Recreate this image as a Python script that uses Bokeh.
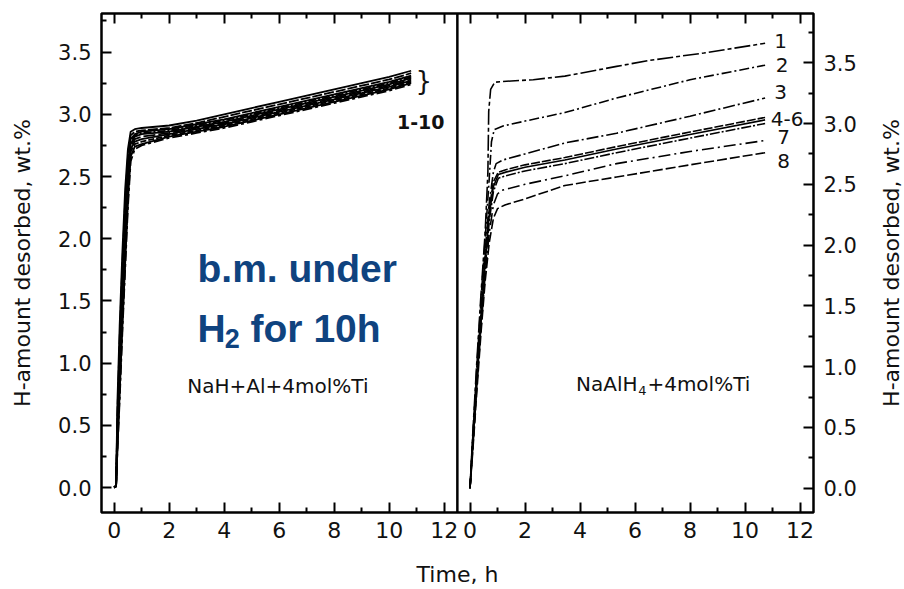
import math
from bokeh.plotting import figure
from bokeh.layouts import row
from bokeh.models import (Range1d, LinearAxis, FixedTicker, Span, Label,
                          CustomJSTickFormatter, PrintfTickFormatter, CustomLabelingPolicy)
from bokeh.embed import file_html
from bokeh.resources import INLINE

# ---------------- data ----------------
# Left panel: NaH+Al+4mol%Ti, cycles 1-10
t_left = [0, 0.07, 0.12, 0.2, 0.3, 0.4, 0.5, 0.6, 0.75, 1, 2, 3, 4, 5, 6, 7, 8, 9, 10, 10.8]
left_1 = [0, 0.02, 0.70, 1.30, 1.90, 2.40, 2.72, 2.86, 2.88, 2.89, 2.91, 2.95, 3.00, 3.05, 3.10, 3.15, 3.20, 3.25, 3.30, 3.35]
left_2 = [0, 0.02, 0.60, 1.20, 1.80, 2.30, 2.65, 2.83, 2.86, 2.87, 2.89, 2.93, 2.98, 3.03, 3.08, 3.13, 3.18, 3.23, 3.28, 3.33]
left_3 = [0, 0.01, 0.55, 1.10, 1.70, 2.20, 2.60, 2.80, 2.84, 2.86, 2.88, 2.92, 2.96, 3.01, 3.06, 3.11, 3.16, 3.21, 3.26, 3.31]
left_4 = [0, 0.01, 0.50, 1.00, 1.60, 2.10, 2.55, 2.78, 2.83, 2.85, 2.87, 2.91, 2.95, 3.00, 3.05, 3.10, 3.15, 3.20, 3.25, 3.30]
left_5 = [0, 0.01, 0.45, 0.95, 1.50, 2.00, 2.50, 2.76, 2.82, 2.84, 2.86, 2.90, 2.94, 2.99, 3.04, 3.09, 3.14, 3.19, 3.24, 3.29]
left_6 = [0, 0.01, 0.40, 0.90, 1.45, 1.95, 2.45, 2.74, 2.80, 2.82, 2.85, 2.89, 2.93, 2.98, 3.03, 3.08, 3.13, 3.18, 3.23, 3.28]
left_7 = [0, 0.01, 0.40, 0.85, 1.40, 1.90, 2.40, 2.72, 2.78, 2.80, 2.84, 2.88, 2.92, 2.97, 3.02, 3.07, 3.12, 3.17, 3.22, 3.27]
left_8 = [0, 0.01, 0.35, 0.80, 1.35, 1.85, 2.35, 2.70, 2.76, 2.78, 2.83, 2.87, 2.91, 2.96, 3.01, 3.06, 3.11, 3.16, 3.21, 3.26]
left_9 = [0, 0.01, 0.30, 0.75, 1.30, 1.80, 2.30, 2.66, 2.74, 2.76, 2.82, 2.86, 2.90, 2.95, 3.00, 3.05, 3.10, 3.15, 3.20, 3.25]
left_10 = [0, 0.01, 0.30, 0.70, 1.25, 1.75, 2.25, 2.62, 2.72, 2.75, 2.81, 2.85, 2.89, 2.94, 2.99, 3.04, 3.09, 3.14, 3.19, 3.24]
left_series = [left_1, left_2, left_3, left_4, left_5, left_6, left_7, left_8, left_9, left_10]

# Right panel: NaAlH4+4mol%Ti, cycles 1-8
right_t_1 = [0, 0.1, 0.25, 0.4, 0.55, 0.65, 0.68, 0.75, 0.9, 1.5, 2.3, 3.45, 5.33, 6.55, 8.5, 10.73]
right_1 = [0, 0.45, 1.05, 1.60, 2.10, 2.60, 3.10, 3.28, 3.34, 3.35, 3.36, 3.39, 3.47, 3.52, 3.58, 3.66]
right_t_2 = [0, 0.1, 0.25, 0.4, 0.55, 0.7, 0.78, 0.88, 1.2, 2, 3.45, 5.33, 8, 10.73]
right_2 = [0, 0.42, 1.00, 1.55, 2.05, 2.55, 2.85, 2.95, 2.98, 3.02, 3.09, 3.21, 3.36, 3.48]
right_t_3 = [0, 0.1, 0.25, 0.4, 0.55, 0.7, 0.85, 0.95, 1.2, 2, 3.45, 5.33, 8, 10.73]
right_3 = [0, 0.40, 0.95, 1.50, 1.95, 2.35, 2.60, 2.67, 2.70, 2.75, 2.84, 2.92, 3.06, 3.21]
right_t_4 = [0, 0.1, 0.25, 0.4, 0.55, 0.7, 0.85, 1.03, 1.3, 2, 3.45, 5.33, 8, 10.73]
right_4 = [0, 0.38, 0.92, 1.45, 1.90, 2.30, 2.52, 2.60, 2.62, 2.66, 2.72, 2.81, 2.93, 3.05]
right_5 = [0, 0.36, 0.90, 1.40, 1.85, 2.25, 2.48, 2.58, 2.60, 2.64, 2.70, 2.79, 2.91, 3.03]
right_6 = [0, 0.34, 0.87, 1.36, 1.80, 2.20, 2.44, 2.55, 2.57, 2.61, 2.67, 2.76, 2.88, 3.00]
right_t_7 = [0, 0.1, 0.25, 0.4, 0.55, 0.7, 0.85, 1.0, 1.15, 2, 3.45, 5.33, 8, 10.73]
right_7 = [0, 0.33, 0.85, 1.32, 1.75, 2.10, 2.33, 2.42, 2.45, 2.50, 2.57, 2.67, 2.77, 2.86]
right_t_8 = [0, 0.1, 0.25, 0.4, 0.55, 0.7, 0.85, 1.0, 1.27, 2, 3.45, 5.33, 8, 10.73]
right_8 = [0, 0.30, 0.80, 1.28, 1.70, 2.02, 2.22, 2.30, 2.33, 2.38, 2.49, 2.56, 2.66, 2.76]
right_series = [(right_t_1, right_1), (right_t_2, right_2), (right_t_3, right_3),
                (right_t_4, right_4), (right_t_4, right_5), (right_t_4, right_6),
                (right_t_7, right_7), (right_t_8, right_8)]

right_labels = ["1", "2", "3", "4-6", "7", "8"]
right_label_x = [11.29, 11.35, 11.29, 11.53, 11.40, 11.40]
right_label_y = [3.68, 3.48, 3.26, 3.04, 2.89, 2.69]

x_ticks = [0, 2, 4, 6, 8, 10, 12]
x_minor = [1, 3, 5, 7, 9, 11]
y_ticks = [0.0, 0.5, 1.0, 1.5, 2.0, 2.5, 3.0, 3.5]
y_minor = [0.25, 0.75, 1.25, 1.75, 2.25, 2.75, 3.25, 3.75]

Y_LABEL = "H-amount desorbed, wt.%"
X_LABEL = "Time, h"

# ---------------- layout constants ----------------
XL0, XL1 = -0.46, 12.48      # left panel x limits
XR0, XR1 = -0.46, 12.49      # right panel x limits
OFF = XL1 - XR0              # offset of right panel in shared coordinates
YL = (-0.2, 3.81)
YR = (-0.2, 3.905)
W_MAIN, W_SIDE, H = 862, 42, 589
BORDER_L, BORDER_R, BORDER_T, BORDER_B = 101, 49, 13, 77

FONT = "DejaVu Sans"
INK = "#111111"

p = figure(width=W_MAIN, height=H, output_backend="svg", toolbar_location=None,
           x_range=Range1d(XL0, XL1 + (XR1 - XR0)), y_range=Range1d(*YL),
           x_axis_location=None, y_axis_location=None,
           min_border_left=BORDER_L, min_border_right=BORDER_R,
           min_border_top=BORDER_T, min_border_bottom=BORDER_B,
           background_fill_color="white", border_fill_color="white")
p.extra_x_ranges = {"right": Range1d(XR0 - OFF, XR1)}
p.extra_y_ranges = {"right": Range1d(*YR)}
p.outline_line_color = "black"
p.outline_line_width = 2.5
p.outline_line_alpha = 1.0
p.grid.visible = False

# ---------------- axes ----------------
xt_all = x_ticks + [t + OFF for t in x_ticks]
xm_all = x_minor + [t + OFF for t in x_minor]
xfmt = CustomJSTickFormatter(args=dict(off=OFF, split=XL1),
                             code="var v = tick > split ? tick - off : tick; return Math.round(v).toString();")


def style_axis(ax, label_size="21px"):
    ax.axis_line_color = None
    ax.major_tick_in = 10
    ax.major_tick_out = 0
    ax.minor_tick_in = 5
    ax.minor_tick_out = 0
    ax.major_tick_line_width = 2
    ax.minor_tick_line_width = 2
    ax.major_tick_line_color = "black"
    ax.minor_tick_line_color = "black"
    ax.major_label_text_font = FONT
    ax.major_label_text_font_size = label_size
    ax.major_label_text_color = INK
    ax.axis_label_text_font = FONT
    ax.axis_label_text_font_size = "22px"
    ax.axis_label_text_font_style = "normal"
    ax.axis_label_text_color = INK


xb = LinearAxis(ticker=FixedTicker(ticks=xt_all, minor_ticks=xm_all), formatter=xfmt,
                axis_label=X_LABEL)
style_axis(xb, "22px")
xb.major_label_standoff = 9
xb.axis_label_standoff = 21
p.add_layout(xb, "below")

# top axis: ticks only, no labels drawn
hide_all = CustomLabelingPolicy(code="for (const i of indices) { indices.unset(i) } return indices")
xa = LinearAxis(ticker=FixedTicker(ticks=xt_all, minor_ticks=xm_all), formatter=xfmt,
                major_label_policy=hide_all)
style_axis(xa, "0px")
xa.major_label_standoff = 0
p.add_layout(xa, "above")

yl = LinearAxis(ticker=FixedTicker(ticks=y_ticks, minor_ticks=y_minor),
                formatter=PrintfTickFormatter(format="%.1f"),
                axis_label=Y_LABEL)
style_axis(yl)
yl.major_label_standoff = 10
yl.axis_label_standoff = 20
p.add_layout(yl, "left")

yr = LinearAxis(y_range_name="right", ticker=FixedTicker(ticks=y_ticks, minor_ticks=y_minor),
                formatter=PrintfTickFormatter(format="%.1f"))
style_axis(yr)
yr.major_label_standoff = 10
p.add_layout(yr, "right")

# divider between panels
p.add_layout(Span(location=XL1, dimension="height", line_color="black", line_width=2.5))

# ---------------- curves ----------------
left_dashes = ["solid", "10 2", "solid", "8 2 2 2", "solid", "12 3", "solid", "6 2", "solid", "10 3 3 3"]
for ys, dash in zip(left_series, left_dashes):
    p.line(t_left, ys, line_color="black", line_width=1.8, line_dash=dash)

right_dashes = ["16 3 4 3", "10 3 2 3", "12 3 2 3", "9 2", "solid", "10 2 2 2", "12 4 2 4", "10 3"]
for (ts, ys), dash in zip(right_series, right_dashes):
    p.line(ts, ys, line_color="black", line_width=1.6, line_dash=dash,
           x_range_name="right", y_range_name="right")

# ---------------- annotations ----------------
for txt, lx, ly in zip(right_labels, right_label_x, right_label_y):
    p.add_layout(Label(x=lx, y=ly, text=txt, x_range_name="right", y_range_name="right",
                       text_font=FONT, text_font_size="20px", text_color=INK,
                       text_align="center", text_baseline="middle"))

p.add_layout(Label(x=11.26, y=3.27, text="}", text_font=FONT, text_font_size="26px",
                   text_color=INK, text_align="center", text_baseline="middle"))
p.add_layout(Label(x=11.15, y=2.94, text="1-10", text_font=FONT, text_font_size="19px",
                   text_font_style="bold", text_color=INK, text_align="center",
                   text_baseline="middle"))

p.add_layout(Label(x=2.66, y=0.82, text="NaH+Al+4mol%Ti", text_font=FONT,
                   text_font_size="20px", text_color=INK, text_align="left",
                   text_baseline="alphabetic"))

p.add_layout(Label(x=6.09, y=0.86, text="NaAlH", x_range_name="right", y_range_name="right",
                   text_font=FONT, text_font_size="20px", text_color=INK,
                   text_align="right", text_baseline="alphabetic"))
p.add_layout(Label(x=6.27, y=0.80, text="4", x_range_name="right", y_range_name="right",
                   text_font=FONT, text_font_size="13px", text_color=INK,
                   text_align="center", text_baseline="alphabetic"))
p.add_layout(Label(x=6.45, y=0.86, text="+4mol%Ti", x_range_name="right", y_range_name="right",
                   text_font=FONT, text_font_size="20px", text_color=INK,
                   text_align="left", text_baseline="alphabetic"))

BLUE = "#0f437f"
BFONT = "Liberation Sans"
p.add_layout(Label(x=3.03, y=1.76, text="b.m. under", text_font=BFONT, text_font_size="39px",
                   text_font_style="bold", text_color=BLUE, text_align="left",
                   text_baseline="alphabetic"))
p.add_layout(Label(x=3.03, y=1.28, text="H", text_font=BFONT, text_font_size="39px",
                   text_font_style="bold", text_color=BLUE, text_align="left",
                   text_baseline="alphabetic"))
p.add_layout(Label(x=4.02, y=1.20, text="2", text_font=BFONT, text_font_size="27px",
                   text_font_style="bold", text_color=BLUE, text_align="left",
                   text_baseline="alphabetic"))
p.add_layout(Label(x=4.96, y=1.28, text="for 10h", text_font=BFONT, text_font_size="39px",
                   text_font_style="bold", text_color=BLUE, text_align="left",
                   text_baseline="alphabetic"))

# ---------------- right-hand axis title (separate narrow strip) ----------------
side = figure(width=W_SIDE, height=H, output_backend="svg", toolbar_location=None,
              x_range=Range1d(0, 1), y_range=Range1d(0, 1),
              x_axis_location=None, y_axis_location=None, min_border=0,
              background_fill_color="white", border_fill_color="white")
side.outline_line_color = None
side.grid.visible = False
side.add_layout(Label(x=0.70, y=0.50, text=Y_LABEL, angle=math.pi / 2,
                      text_font=FONT, text_font_size="22px", text_color=INK,
                      text_align="center", text_baseline="middle"))

layout = row(p, side)
open("out.html", "w").write(file_html(layout, INLINE))
